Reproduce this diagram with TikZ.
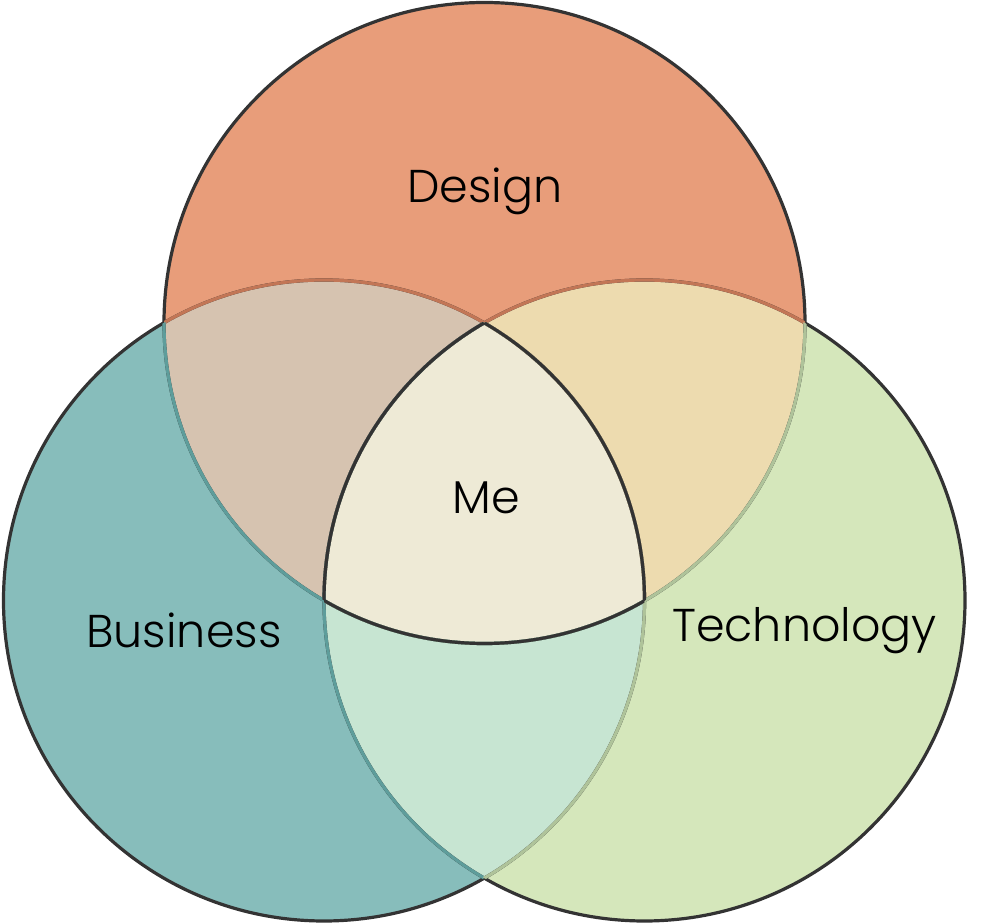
\documentclass[tikz,border=0pt]{standalone}
\usepackage{fontspec}
\setmainfont{Poppins}[UprightFont=* Light]
\usetikzlibrary{positioning}
\definecolor{dsgorange}{RGB}{232,157,122}
\definecolor{busteal}{RGB}{135,189,187}
\definecolor{tecgreen}{RGB}{213,231,187}
\definecolor{dbmix}{RGB}{214,195,176}
\definecolor{dtmix}{RGB}{237,219,175}
\definecolor{btmix}{RGB}{199,229,210}
\definecolor{memix}{RGB}{238,234,214}
\definecolor{vennline}{RGB}{51,51,51}
\definecolor{dsgline}{RGB}{194,118,86}
\definecolor{busline}{RGB}{94,157,155}
\definecolor{tecline}{RGB}{175,195,154}

\begin{document}
\begin{tikzpicture}[x=0.5pt,y=-0.5pt,font=\fontsize{23}{27}\selectfont,
  ring/.style={line width=1.6pt},
  venntext/.style={anchor=base,inner sep=0pt}]
\useasboundingbox (0,0) rectangle (987,924);
\def\rad{320.5}
\coordinate (dsg) at (484.5,323);
\coordinate (bus) at (324,600.5);
\coordinate (tec) at (644.5,600.5);
% plain circles
\foreach \c/\col in {dsg/dsgorange,bus/busteal,tec/tecgreen}
  \fill[\col] (\c) circle[radius=\rad];
% two-way overlaps
\foreach \a/\b/\col in {dsg/bus/dbmix,dsg/tec/dtmix,bus/tec/btmix}{
  \begin{scope}
    \clip (\a) circle[radius=\rad];
    \fill[\col] (\b) circle[radius=\rad];
  \end{scope}
}
% centre
\begin{scope}
  \clip (dsg) circle[radius=\rad];
  \clip (bus) circle[radius=\rad];
  \fill[memix] (tec) circle[radius=\rad];
\end{scope}
% outlines
\foreach \c in {dsg,bus,tec}
  \draw[ring,vennline] (\c) circle[radius=\rad];
% arcs of one circle seen through another
\foreach \a/\b/\col in {bus/dsg/dsgline,tec/dsg/dsgline,dsg/bus/busline,%
  tec/bus/busline,dsg/tec/tecline,bus/tec/tecline}{
  \begin{scope}
    \clip (\b) circle[radius=\rad];
    \draw[ring,\col] (\a) circle[radius=\rad];
  \end{scope}
}
% border of the centre
\foreach \a/\b/\c in {dsg/bus/tec,bus/dsg/tec,tec/dsg/bus}{
  \begin{scope}
    \clip (\b) circle[radius=\rad];
    \clip (\c) circle[radius=\rad];
    \draw[ring,vennline] (\a) circle[radius=\rad];
  \end{scope}
}
\node[venntext] (design) at (485,203) {Design};
\node[venntext] (business) at (184,648) {Business};
\node[venntext] (technology) at (804.5,642) {Technology};
\node[venntext] (me) at (486,514) {Me};
\end{tikzpicture}
\end{document}
